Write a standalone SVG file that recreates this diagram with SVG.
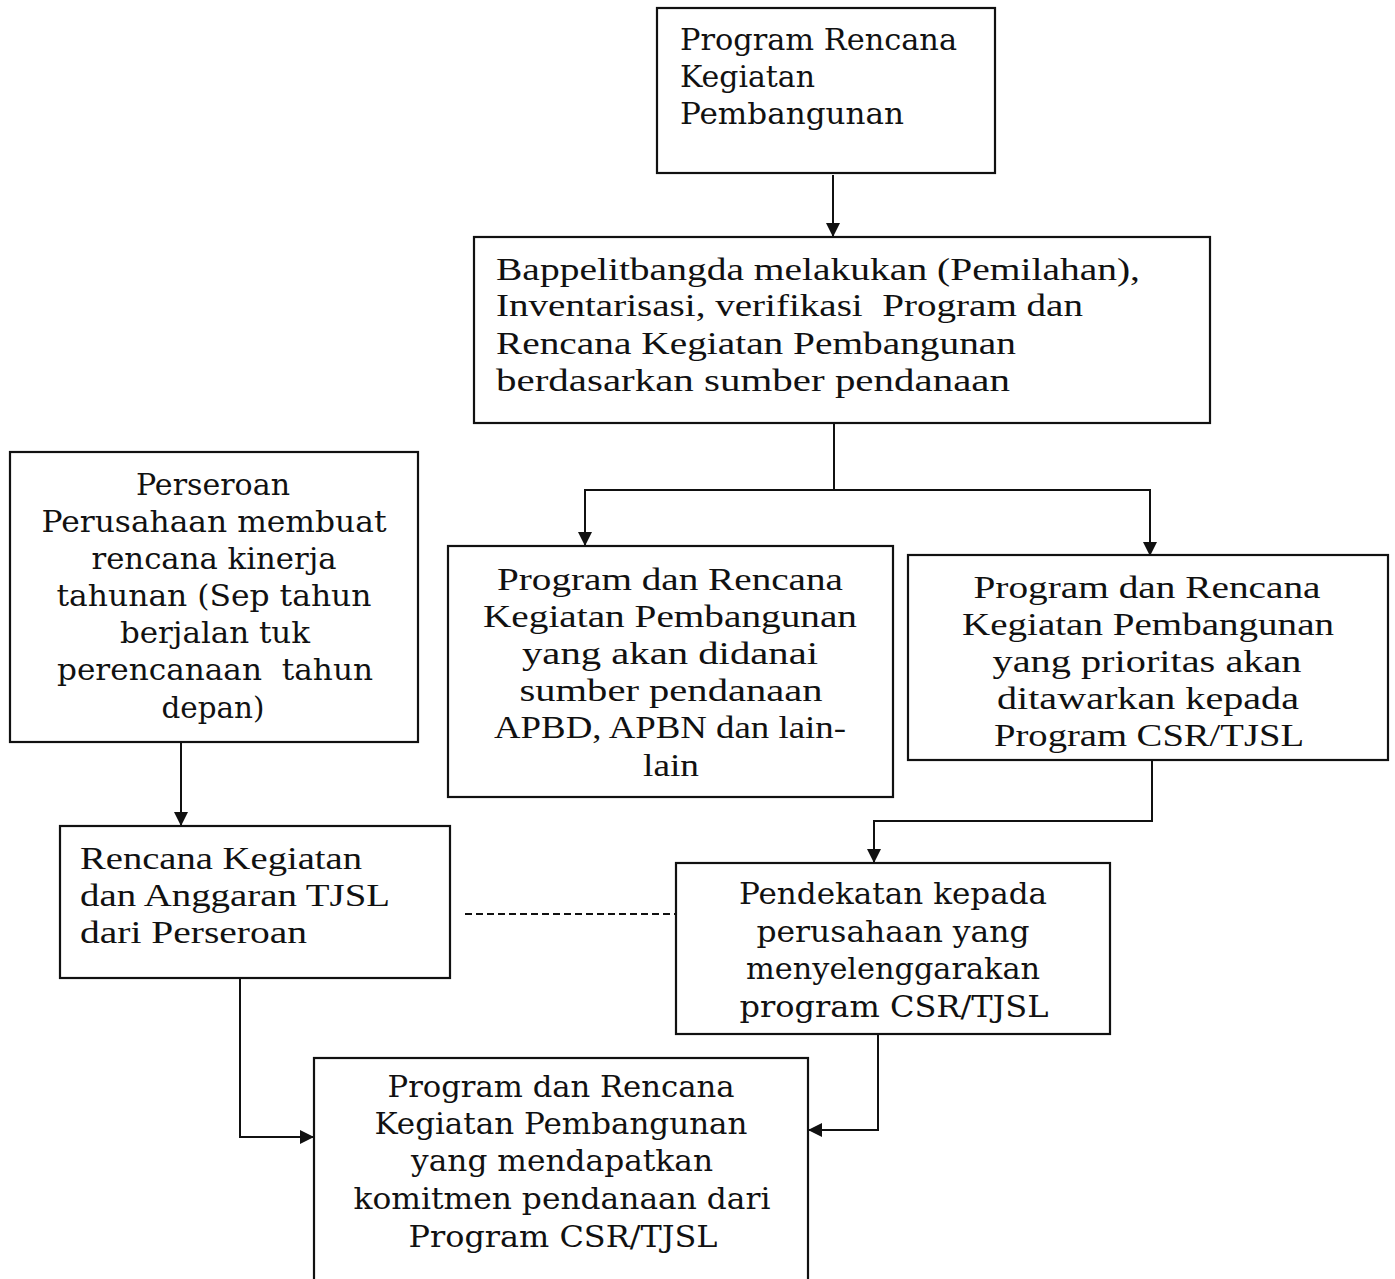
<svg xmlns="http://www.w3.org/2000/svg" width="1395" height="1279" viewBox="0 0 1395 1279">
<style>
.box{fill:#fff;stroke:#111;stroke-width:2.2}
.w{font-family:"DejaVu Serif","Liberation Serif",serif;font-size:29px;fill:#111}
.n{font-family:"Liberation Serif","DejaVu Serif",serif;font-size:32px;fill:#111}
.c{text-anchor:middle}
.ln{fill:none;stroke:#111;stroke-width:2}
.dash{fill:none;stroke:#111;stroke-width:2;stroke-dasharray:7 4}
</style>
<defs>
<marker id="ah" markerWidth="14" markerHeight="16" refX="13" refY="7" orient="auto" markerUnits="userSpaceOnUse" viewBox="0 0 14 14">
<path d="M0,0 L14,7 L0,14 Z" fill="#111"/>
</marker>
</defs>
<rect width="1395" height="1279" fill="#fff"/>
<g id="connectors">
<line class="ln" x1="833" y1="175" x2="833" y2="236" marker-end="url(#ah)"/>
<polyline class="ln" points="834,424 834,490 585,490 585,545" marker-end="url(#ah)"/>
<polyline class="ln" points="834,490 1150,490 1150,555" marker-end="url(#ah)"/>
<line class="ln" x1="181" y1="743" x2="181" y2="825" marker-end="url(#ah)"/>
<polyline class="ln" points="1152,761 1152,821 874,821 874,862" marker-end="url(#ah)"/>
<line class="dash" x1="465" y1="914" x2="676" y2="914"/>
<polyline class="ln" points="240,979 240,1137 313,1137" marker-end="url(#ah)"/>
<polyline class="ln" points="878,1035 878,1130 809,1130" marker-end="url(#ah)"/>
</g>
<g id="n1">
<rect class="box" x="657" y="8" width="338" height="165"/>
<text class="w"><tspan x="680" y="50" textLength="277" lengthAdjust="spacingAndGlyphs">Program Rencana</tspan><tspan x="680" y="87" textLength="135" lengthAdjust="spacingAndGlyphs">Kegiatan</tspan><tspan x="680" y="124" textLength="224" lengthAdjust="spacingAndGlyphs">Pembangunan</tspan></text>
</g>
<g id="n2">
<rect class="box" x="474" y="237" width="736" height="186"/>
<text class="n"><tspan x="496" y="280" textLength="644" lengthAdjust="spacingAndGlyphs">Bappelitbangda melakukan (Pemilahan),</tspan><tspan x="496" y="316" textLength="587" lengthAdjust="spacingAndGlyphs">Inventarisasi, verifikasi &#160;Program dan</tspan><tspan x="496" y="354" textLength="520" lengthAdjust="spacingAndGlyphs">Rencana Kegiatan Pembangunan</tspan><tspan x="496" y="391" textLength="514" lengthAdjust="spacingAndGlyphs">berdasarkan sumber pendanaan</tspan></text>
</g>
<g id="n3">
<rect class="box" x="10" y="452" width="408" height="290"/>
<text class="w c"><tspan x="213" y="495" textLength="154" lengthAdjust="spacingAndGlyphs">Perseroan</tspan><tspan x="214" y="532" textLength="345" lengthAdjust="spacingAndGlyphs">Perusahaan membuat</tspan><tspan x="214" y="569" textLength="245" lengthAdjust="spacingAndGlyphs">rencana kinerja</tspan><tspan x="214" y="606" textLength="315" lengthAdjust="spacingAndGlyphs">tahunan (Sep tahun</tspan><tspan x="215" y="643" textLength="190" lengthAdjust="spacingAndGlyphs">berjalan tuk</tspan><tspan x="215" y="680" textLength="316" lengthAdjust="spacingAndGlyphs">perencanaan &#160;tahun</tspan><tspan x="213" y="718" textLength="103" lengthAdjust="spacingAndGlyphs">depan)</tspan></text>
</g>
<g id="n4">
<rect class="box" x="448" y="546" width="445" height="251"/>
<text class="n c"><tspan x="670" y="590" textLength="346" lengthAdjust="spacingAndGlyphs">Program dan Rencana</tspan><tspan x="670" y="627" textLength="374" lengthAdjust="spacingAndGlyphs">Kegiatan Pembangunan</tspan><tspan x="670" y="664" textLength="296" lengthAdjust="spacingAndGlyphs">yang akan didanai</tspan><tspan x="671" y="701" textLength="303" lengthAdjust="spacingAndGlyphs">sumber pendanaan</tspan><tspan x="670" y="738" textLength="352" lengthAdjust="spacingAndGlyphs">APBD, APBN dan lain-</tspan><tspan x="671" y="776" textLength="56" lengthAdjust="spacingAndGlyphs">lain</tspan></text>
</g>
<g id="n5">
<rect class="box" x="908" y="555" width="480" height="205"/>
<text class="n c"><tspan x="1147" y="598" textLength="347" lengthAdjust="spacingAndGlyphs">Program dan Rencana</tspan><tspan x="1148" y="635" textLength="372" lengthAdjust="spacingAndGlyphs">Kegiatan Pembangunan</tspan><tspan x="1147" y="672" textLength="309" lengthAdjust="spacingAndGlyphs">yang prioritas akan</tspan><tspan x="1148" y="709" textLength="302" lengthAdjust="spacingAndGlyphs">ditawarkan kepada</tspan><tspan x="1149" y="746" textLength="310" lengthAdjust="spacingAndGlyphs">Program CSR/TJSL</tspan></text>
</g>
<g id="n6">
<rect class="box" x="60" y="826" width="390" height="152"/>
<text class="n"><tspan x="80" y="869" textLength="282" lengthAdjust="spacingAndGlyphs">Rencana Kegiatan</tspan><tspan x="80" y="906" textLength="310" lengthAdjust="spacingAndGlyphs">dan Anggaran TJSL</tspan><tspan x="80" y="943" textLength="227" lengthAdjust="spacingAndGlyphs">dari Perseroan</tspan></text>
</g>
<g id="n7">
<rect class="box" x="676" y="863" width="434" height="171"/>
<text class="w c"><tspan x="893" y="904" textLength="308" lengthAdjust="spacingAndGlyphs">Pendekatan kepada</tspan><tspan x="893" y="942" textLength="273" lengthAdjust="spacingAndGlyphs">perusahaan yang</tspan><tspan x="893" y="979" textLength="294" lengthAdjust="spacingAndGlyphs">menyelenggarakan</tspan><tspan x="894" y="1017" textLength="309" lengthAdjust="spacingAndGlyphs">program CSR/TJSL</tspan></text>
</g>
<g id="n8">
<rect class="box" x="314" y="1058" width="494" height="240"/>
<text class="w c"><tspan x="561" y="1097" textLength="347" lengthAdjust="spacingAndGlyphs">Program dan Rencana</tspan><tspan x="561" y="1134" textLength="373" lengthAdjust="spacingAndGlyphs">Kegiatan Pembangunan</tspan><tspan x="562" y="1171" textLength="302" lengthAdjust="spacingAndGlyphs">yang mendapatkan</tspan><tspan x="562" y="1209" textLength="417" lengthAdjust="spacingAndGlyphs">komitmen pendanaan dari</tspan><tspan x="563" y="1247" textLength="309" lengthAdjust="spacingAndGlyphs">Program CSR/TJSL</tspan></text>
</g>
</svg>
